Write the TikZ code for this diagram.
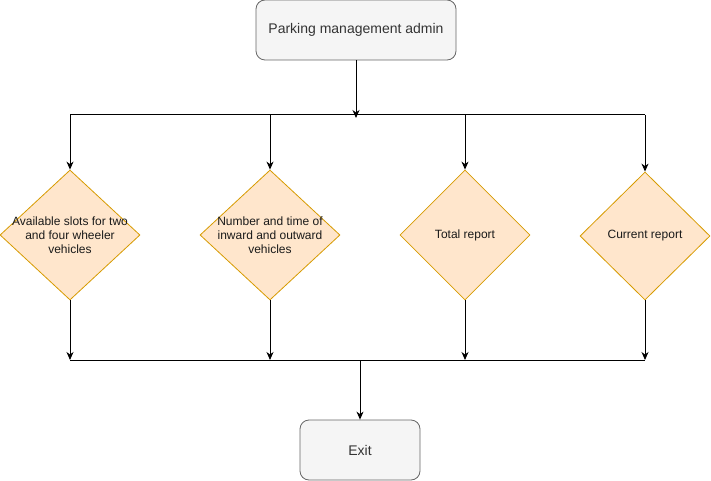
\documentclass[tikz,border=0pt]{standalone}
\usepackage{fontspec}
\setmainfont{Liberation Sans}
\usetikzlibrary{shapes.geometric,arrows.meta}
\definecolor{boxfill}{HTML}{F5F5F5}
\definecolor{boxline}{HTML}{666666}
\definecolor{boxtext}{HTML}{333333}
\definecolor{diafill}{HTML}{FFE6CC}
\definecolor{dialine}{HTML}{D79B00}
\definecolor{diatext}{HTML}{1A1A1A}
\tikzset{
  rbox/.style={draw=boxline, fill=boxfill, rounded corners=9pt, line width=0.8pt,
    minimum height=60pt, text=boxtext, font=\fontsize{14}{16}\selectfont, inner sep=0pt},
  dia/.style={diamond, draw=dialine, fill=diafill, line width=0.8pt,
    minimum width=140pt, minimum height=130pt, inner sep=0pt},
  dtext/.style={text=diatext, align=center, font=\fontsize{12}{14}\selectfont, inner sep=0pt},
  conn/.style={line width=1pt, draw=black},
  arr/.style={conn, -{Stealth[length=8pt,width=7pt,inset=2.5pt]}},
}
\begin{document}
\begin{tikzpicture}[x=1pt,y=-1pt]
\useasboundingbox (0,0) rectangle (711,481);
\node[rbox, minimum width=200pt] (admin) at (356,30) {Parking management admin};
\node[dia] (d1) at (70,235) {};
\node[dtext] (t1) at (d1.center) {Available slots for two\\and four wheeler\\vehicles};
\node[dia] (d2) at (270,235) {};
\node[dtext] (t2) at (d2.center) {Number and time of\\inward and outward\\vehicles};
\node[dia, minimum width=130pt] (d3) at (465,235) {};
\node[dtext] (t3) at (d3.center) {Total report};
\node[dia, minimum width=130pt, minimum height=128pt] (d4) at (645,236) {};
\node[dtext] (t4) at (d4.center) {Current report};
\node[rbox, minimum width=120pt] (exit) at (360,450) {Exit};

\coordinate (jt) at (356,118);
\coordinate (tl) at (70,115);
\coordinate (tr) at (645,115);
\coordinate (bl) at (70,360);
\coordinate (br) at (645,360);
\coordinate (bm) at (360,360);

\draw[conn] (tl) -- (tr);
\draw[arr] (admin.south) -- (jt);
\draw[arr] (tl) -- (d1.north);
\draw[arr] (270,115) -- (d2.north);
\draw[arr] (465,115) -- (d3.north);
\draw[arr] (tr) -- (d4.north);

\draw[arr] (d1.south) -- (bl);
\draw[arr] (d2.south) -- (270,360);
\draw[arr] (d3.south) -- (465,360);
\draw[arr] (d4.south) -- (br);
\draw[conn] (bl) -- (br);
\draw[arr] (bm) -- (exit.north);
\end{tikzpicture}
\end{document}
